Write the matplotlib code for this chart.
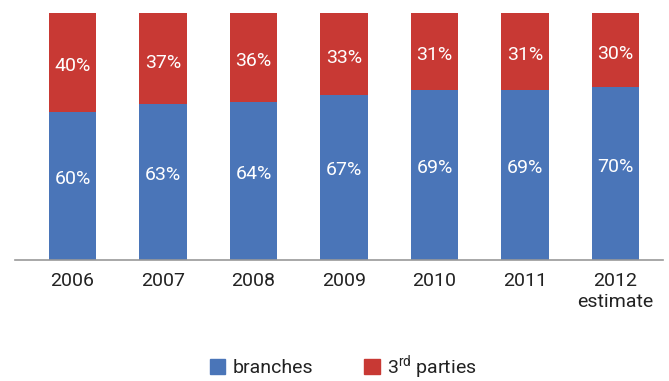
import matplotlib
matplotlib.use("Agg")
import matplotlib.pyplot as plt
from matplotlib.patches import Patch
from matplotlib import font_manager

years = ["2006", "2007", "2008", "2009", "2010", "2011", "2012\nestimate"]
branches = [60, 63, 64, 67, 69, 69, 70]
third_parties = [40, 37, 36, 33, 31, 31, 30]

names = {f.name for f in font_manager.fontManager.ttflist}
fam = "Liberation Sans Narrow" if "Liberation Sans Narrow" in names else "Roboto"
plt.rcParams["font.family"] = [fam, "DejaVu Sans"]
plt.rcParams["mathtext.fontset"] = "custom"
plt.rcParams["mathtext.rm"] = fam
plt.rcParams["mathtext.default"] = "regular"

blue = "#4A75B8"
red = "#C83934"

fig = plt.figure(figsize=(6.69, 3.81), dpi=100)
ax = fig.add_axes([15/669, 121/381, 648/669, 247/381])
x = list(range(len(years)))
ax.bar(x, branches, width=0.52, color=blue, zorder=2)
ax.bar(x, third_parties, bottom=branches, width=0.52, color=red, zorder=2)
for i in x:
    ax.text(i, branches[i] / 2 + 2.8, f"{branches[i]}%", ha="center", va="center",
            color="white", fontsize=14)
    ax.text(i, branches[i] + third_parties[i] / 2 - 1.6, f"{third_parties[i]}%", ha="center",
            va="center", color="white", fontsize=14)
ax.set_xlim(-0.635, 6.525)
ax.set_ylim(0, 100)
ax.set_yticks([])
ax.set_xticks(x)
ax.set_xticklabels(years, fontsize=14, color="#222222", linespacing=1.2)
ax.tick_params(axis="x", length=0, pad=9)
for s in ["top", "right", "left"]:
    ax.spines[s].set_visible(False)
ax.spines["bottom"].set_color("#999999")
ax.spines["bottom"].set_linewidth(1.2)

handles = [Patch(color=blue), Patch(color=red)]
fig.legend(handles, ["branches", "3$^{rd}$ parties"], loc="center",
           bbox_to_anchor=(0.513, 1 - 367/381), ncol=2, frameon=False,
           fontsize=14, handlelength=0.8, handleheight=0.8, handletextpad=0.4,
           columnspacing=2.6, labelcolor="#222222", borderpad=0.2)
fig.savefig("out.png", dpi=100)
